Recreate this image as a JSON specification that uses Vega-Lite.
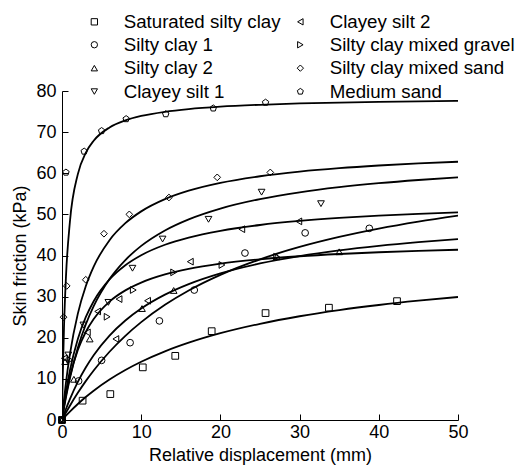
{
  "$schema": "https://vega.github.io/schema/vega-lite/v6.json",
  "width": 396,
  "height": 329,
  "autosize": "none",
  "padding": {"left": 62, "top": 91, "right": 67, "bottom": 46},
  "background": "white",
  "config": {
    "font": "Liberation Sans",
    "view": {"stroke": null},
    "axis": {"grid": false, "domainColor": "black", "tickColor": "black", "labelColor": "black", "titleColor": "black", "labelFont": "Liberation Sans", "titleFont": "Liberation Sans", "titleFontWeight": "normal", "labelFontSize": 18, "titleFontSize": 18}
  },
  "datasets": {
    "pts": [
      {"s": "Saturated silty clay", "x": 0, "y": 0}, {"s": "Saturated silty clay", "x": 2.6, "y": 4.7}, {"s": "Saturated silty clay", "x": 6.1, "y": 6.3}, {"s": "Saturated silty clay", "x": 10.2, "y": 12.8}, {"s": "Saturated silty clay", "x": 14.3, "y": 15.6}, {"s": "Saturated silty clay", "x": 18.9, "y": 21.6}, {"s": "Saturated silty clay", "x": 25.7, "y": 26.0}, {"s": "Saturated silty clay", "x": 33.7, "y": 27.3}, {"s": "Saturated silty clay", "x": 42.3, "y": 28.9},
      {"s": "Silty clay 1", "x": 0, "y": 0}, {"s": "Silty clay 1", "x": 2.1, "y": 9.5}, {"s": "Silty clay 1", "x": 5.0, "y": 14.5}, {"s": "Silty clay 1", "x": 8.6, "y": 18.8}, {"s": "Silty clay 1", "x": 12.3, "y": 24.1}, {"s": "Silty clay 1", "x": 16.7, "y": 31.6}, {"s": "Silty clay 1", "x": 23.1, "y": 40.6}, {"s": "Silty clay 1", "x": 30.7, "y": 45.5}, {"s": "Silty clay 1", "x": 38.8, "y": 46.6},
      {"s": "Silty clay 2", "x": 0, "y": 0}, {"s": "Silty clay 2", "x": 0.4, "y": 14.2}, {"s": "Silty clay 2", "x": 1.5, "y": 9.9}, {"s": "Silty clay 2", "x": 3.5, "y": 19.7}, {"s": "Silty clay 2", "x": 10.1, "y": 27.1}, {"s": "Silty clay 2", "x": 14.1, "y": 31.5}, {"s": "Silty clay 2", "x": 27.1, "y": 39.7}, {"s": "Silty clay 2", "x": 35.0, "y": 40.9},
      {"s": "Clayey silt 1", "x": 0, "y": 0}, {"s": "Clayey silt 1", "x": 0.8, "y": 15.8}, {"s": "Clayey silt 1", "x": 2.7, "y": 23.1}, {"s": "Clayey silt 1", "x": 5.85, "y": 28.6}, {"s": "Clayey silt 1", "x": 8.9, "y": 36.9}, {"s": "Clayey silt 1", "x": 12.7, "y": 44.0}, {"s": "Clayey silt 1", "x": 18.5, "y": 48.8}, {"s": "Clayey silt 1", "x": 25.2, "y": 55.4}, {"s": "Clayey silt 1", "x": 32.7, "y": 52.6},
      {"s": "Clayey silt 2", "x": 0, "y": 0}, {"s": "Clayey silt 2", "x": 0.3, "y": 15.0}, {"s": "Clayey silt 2", "x": 3.2, "y": 21.3}, {"s": "Clayey silt 2", "x": 4.5, "y": 26.4}, {"s": "Clayey silt 2", "x": 6.8, "y": 19.7}, {"s": "Clayey silt 2", "x": 7.2, "y": 29.4}, {"s": "Clayey silt 2", "x": 10.8, "y": 29.0}, {"s": "Clayey silt 2", "x": 16.2, "y": 38.5}, {"s": "Clayey silt 2", "x": 22.7, "y": 46.4}, {"s": "Clayey silt 2", "x": 29.9, "y": 48.3},
      {"s": "Silty clay mixed gravel", "x": 0, "y": 0}, {"s": "Silty clay mixed gravel", "x": 1.0, "y": 14.6}, {"s": "Silty clay mixed gravel", "x": 5.7, "y": 25.1}, {"s": "Silty clay mixed gravel", "x": 9.0, "y": 31.6}, {"s": "Silty clay mixed gravel", "x": 14.1, "y": 35.9}, {"s": "Silty clay mixed gravel", "x": 20.2, "y": 37.7}, {"s": "Silty clay mixed gravel", "x": 27.1, "y": 39.7},
      {"s": "Silty clay mixed sand", "x": 0, "y": 0}, {"s": "Silty clay mixed sand", "x": 0.2, "y": 25.0}, {"s": "Silty clay mixed sand", "x": 0.6, "y": 32.6}, {"s": "Silty clay mixed sand", "x": 3.0, "y": 34.1}, {"s": "Silty clay mixed sand", "x": 5.3, "y": 45.3}, {"s": "Silty clay mixed sand", "x": 8.5, "y": 50.0}, {"s": "Silty clay mixed sand", "x": 13.5, "y": 54.1}, {"s": "Silty clay mixed sand", "x": 19.6, "y": 59.0}, {"s": "Silty clay mixed sand", "x": 26.3, "y": 60.2},
      {"s": "Medium sand", "x": 0, "y": 0}, {"s": "Medium sand", "x": 0.5, "y": 60.2}, {"s": "Medium sand", "x": 2.8, "y": 65.3}, {"s": "Medium sand", "x": 5.0, "y": 70.3}, {"s": "Medium sand", "x": 8.1, "y": 73.2}, {"s": "Medium sand", "x": 13.1, "y": 74.4}, {"s": "Medium sand", "x": 19.1, "y": 75.8}, {"s": "Medium sand", "x": 25.7, "y": 77.2}
    ],
    "fit": [
      {"s": "Medium sand", "x": 0, "y": 0}, {"s": "Medium sand", "x": 0.1, "y": 10.78}, {"s": "Medium sand", "x": 0.25, "y": 22.36}, {"s": "Medium sand", "x": 0.5, "y": 34.81}, {"s": "Medium sand", "x": 1, "y": 48.25}, {"s": "Medium sand", "x": 2, "y": 59.79}, {"s": "Medium sand", "x": 3, "y": 64.97}, {"s": "Medium sand", "x": 4, "y": 67.91}, {"s": "Medium sand", "x": 6, "y": 71.13}, {"s": "Medium sand", "x": 8, "y": 72.85}, {"s": "Medium sand", "x": 10, "y": 73.93}, {"s": "Medium sand", "x": 13, "y": 74.95}, {"s": "Medium sand", "x": 16, "y": 75.61}, {"s": "Medium sand", "x": 20, "y": 76.19}, {"s": "Medium sand", "x": 25, "y": 76.65}, {"s": "Medium sand", "x": 30, "y": 76.97}, {"s": "Medium sand", "x": 35, "y": 77.19}, {"s": "Medium sand", "x": 40, "y": 77.36}, {"s": "Medium sand", "x": 45, "y": 77.50}, {"s": "Medium sand", "x": 50, "y": 77.60},
      {"s": "Silty clay mixed sand", "x": 0, "y": 0}, {"s": "Silty clay mixed sand", "x": 0.25, "y": 4.89}, {"s": "Silty clay mixed sand", "x": 0.5, "y": 9.12}, {"s": "Silty clay mixed sand", "x": 1, "y": 16.04}, {"s": "Silty clay mixed sand", "x": 2, "y": 25.87}, {"s": "Silty clay mixed sand", "x": 3, "y": 32.51}, {"s": "Silty clay mixed sand", "x": 4, "y": 37.29}, {"s": "Silty clay mixed sand", "x": 6, "y": 43.73}, {"s": "Silty clay mixed sand", "x": 8, "y": 47.86}, {"s": "Silty clay mixed sand", "x": 10, "y": 50.73}, {"s": "Silty clay mixed sand", "x": 13, "y": 53.71}, {"s": "Silty clay mixed sand", "x": 16, "y": 55.75}, {"s": "Silty clay mixed sand", "x": 20, "y": 57.66}, {"s": "Silty clay mixed sand", "x": 25, "y": 59.27}, {"s": "Silty clay mixed sand", "x": 30, "y": 60.40}, {"s": "Silty clay mixed sand", "x": 35, "y": 61.24}, {"s": "Silty clay mixed sand", "x": 40, "y": 61.88}, {"s": "Silty clay mixed sand", "x": 45, "y": 62.39}, {"s": "Silty clay mixed sand", "x": 50, "y": 62.80},
      {"s": "Clayey silt 1", "x": 0, "y": 0}, {"s": "Clayey silt 1", "x": 0.25, "y": 2.87}, {"s": "Clayey silt 1", "x": 0.5, "y": 5.49}, {"s": "Clayey silt 1", "x": 1, "y": 10.13}, {"s": "Clayey silt 1", "x": 2, "y": 17.55}, {"s": "Clayey silt 1", "x": 3, "y": 23.21}, {"s": "Clayey silt 1", "x": 4, "y": 27.67}, {"s": "Clayey silt 1", "x": 6, "y": 34.27}, {"s": "Clayey silt 1", "x": 8, "y": 38.90}, {"s": "Clayey silt 1", "x": 10, "y": 42.33}, {"s": "Clayey silt 1", "x": 13, "y": 46.09}, {"s": "Clayey silt 1", "x": 16, "y": 48.79}, {"s": "Clayey silt 1", "x": 20, "y": 51.41}, {"s": "Clayey silt 1", "x": 25, "y": 53.71}, {"s": "Clayey silt 1", "x": 30, "y": 55.37}, {"s": "Clayey silt 1", "x": 35, "y": 56.61}, {"s": "Clayey silt 1", "x": 40, "y": 57.58}, {"s": "Clayey silt 1", "x": 45, "y": 58.36}, {"s": "Clayey silt 1", "x": 50, "y": 59.00},
      {"s": "Clayey silt 2", "x": 0, "y": 0}, {"s": "Clayey silt 2", "x": 0.25, "y": 3.62}, {"s": "Clayey silt 2", "x": 0.5, "y": 6.79}, {"s": "Clayey silt 2", "x": 1, "y": 12.06}, {"s": "Clayey silt 2", "x": 2, "y": 19.72}, {"s": "Clayey silt 2", "x": 3, "y": 25.01}, {"s": "Clayey silt 2", "x": 4, "y": 28.89}, {"s": "Clayey silt 2", "x": 6, "y": 34.19}, {"s": "Clayey silt 2", "x": 8, "y": 37.64}, {"s": "Clayey silt 2", "x": 10, "y": 40.07}, {"s": "Clayey silt 2", "x": 13, "y": 42.61}, {"s": "Clayey silt 2", "x": 16, "y": 44.37}, {"s": "Clayey silt 2", "x": 20, "y": 46.01}, {"s": "Clayey silt 2", "x": 25, "y": 47.42}, {"s": "Clayey silt 2", "x": 30, "y": 48.40}, {"s": "Clayey silt 2", "x": 35, "y": 49.13}, {"s": "Clayey silt 2", "x": 40, "y": 49.69}, {"s": "Clayey silt 2", "x": 45, "y": 50.14}, {"s": "Clayey silt 2", "x": 50, "y": 50.50},
      {"s": "Silty clay 1", "x": 0, "y": 0}, {"s": "Silty clay 1", "x": 0.25, "y": 0.90}, {"s": "Silty clay 1", "x": 0.5, "y": 1.78}, {"s": "Silty clay 1", "x": 1, "y": 3.47}, {"s": "Silty clay 1", "x": 2, "y": 6.60}, {"s": "Silty clay 1", "x": 3, "y": 9.45}, {"s": "Silty clay 1", "x": 4, "y": 12.04}, {"s": "Silty clay 1", "x": 6, "y": 16.60}, {"s": "Silty clay 1", "x": 8, "y": 20.47}, {"s": "Silty clay 1", "x": 10, "y": 23.80}, {"s": "Silty clay 1", "x": 13, "y": 28.01}, {"s": "Silty clay 1", "x": 16, "y": 31.50}, {"s": "Silty clay 1", "x": 20, "y": 35.30}, {"s": "Silty clay 1", "x": 25, "y": 39.07}, {"s": "Silty clay 1", "x": 30, "y": 42.07}, {"s": "Silty clay 1", "x": 35, "y": 44.51}, {"s": "Silty clay 1", "x": 40, "y": 46.54}, {"s": "Silty clay 1", "x": 45, "y": 48.24}, {"s": "Silty clay 1", "x": 50, "y": 49.70},
      {"s": "Silty clay 2", "x": 0, "y": 0}, {"s": "Silty clay 2", "x": 0.25, "y": 1.37}, {"s": "Silty clay 2", "x": 0.5, "y": 2.68}, {"s": "Silty clay 2", "x": 1, "y": 5.09}, {"s": "Silty clay 2", "x": 2, "y": 9.28}, {"s": "Silty clay 2", "x": 3, "y": 12.78}, {"s": "Silty clay 2", "x": 4, "y": 15.76}, {"s": "Silty clay 2", "x": 6, "y": 20.53}, {"s": "Silty clay 2", "x": 8, "y": 24.20}, {"s": "Silty clay 2", "x": 10, "y": 27.10}, {"s": "Silty clay 2", "x": 13, "y": 30.48}, {"s": "Silty clay 2", "x": 16, "y": 33.05}, {"s": "Silty clay 2", "x": 20, "y": 35.66}, {"s": "Silty clay 2", "x": 25, "y": 38.07}, {"s": "Silty clay 2", "x": 30, "y": 39.86}, {"s": "Silty clay 2", "x": 35, "y": 41.25}, {"s": "Silty clay 2", "x": 40, "y": 42.35}, {"s": "Silty clay 2", "x": 45, "y": 43.25}, {"s": "Silty clay 2", "x": 50, "y": 44.00},
      {"s": "Silty clay mixed gravel", "x": 0, "y": 0}, {"s": "Silty clay mixed gravel", "x": 0.25, "y": 3.22}, {"s": "Silty clay mixed gravel", "x": 0.5, "y": 5.99}, {"s": "Silty clay mixed gravel", "x": 1, "y": 10.55}, {"s": "Silty clay mixed gravel", "x": 2, "y": 17.02}, {"s": "Silty clay mixed gravel", "x": 3, "y": 21.40}, {"s": "Silty clay mixed gravel", "x": 4, "y": 24.55}, {"s": "Silty clay mixed gravel", "x": 6, "y": 28.80}, {"s": "Silty clay mixed gravel", "x": 8, "y": 31.52}, {"s": "Silty clay mixed gravel", "x": 10, "y": 33.42}, {"s": "Silty clay mixed gravel", "x": 13, "y": 35.39}, {"s": "Silty clay mixed gravel", "x": 16, "y": 36.74}, {"s": "Silty clay mixed gravel", "x": 20, "y": 38.00}, {"s": "Silty clay mixed gravel", "x": 25, "y": 39.07}, {"s": "Silty clay mixed gravel", "x": 30, "y": 39.82}, {"s": "Silty clay mixed gravel", "x": 35, "y": 40.37}, {"s": "Silty clay mixed gravel", "x": 40, "y": 40.79}, {"s": "Silty clay mixed gravel", "x": 45, "y": 41.13}, {"s": "Silty clay mixed gravel", "x": 50, "y": 41.40},
      {"s": "Saturated silty clay", "x": 0, "y": 0}, {"s": "Saturated silty clay", "x": 0.25, "y": 0.53}, {"s": "Saturated silty clay", "x": 0.5, "y": 1.05}, {"s": "Saturated silty clay", "x": 1, "y": 2.04}, {"s": "Saturated silty clay", "x": 2, "y": 3.89}, {"s": "Saturated silty clay", "x": 3, "y": 5.58}, {"s": "Saturated silty clay", "x": 4, "y": 7.12}, {"s": "Saturated silty clay", "x": 6, "y": 9.83}, {"s": "Saturated silty clay", "x": 8, "y": 12.15}, {"s": "Saturated silty clay", "x": 10, "y": 14.15}, {"s": "Saturated silty clay", "x": 13, "y": 16.69}, {"s": "Saturated silty clay", "x": 16, "y": 18.79}, {"s": "Saturated silty clay", "x": 20, "y": 21.10}, {"s": "Saturated silty clay", "x": 25, "y": 23.39}, {"s": "Saturated silty clay", "x": 30, "y": 25.23}, {"s": "Saturated silty clay", "x": 35, "y": 26.72}, {"s": "Saturated silty clay", "x": 40, "y": 27.96}, {"s": "Saturated silty clay", "x": 45, "y": 29.01}, {"s": "Saturated silty clay", "x": 50, "y": 29.91}
    ]
  },
  "layer": [
    {
      "data": {"name": "fit"},
      "mark": {"type": "line", "color": "black", "strokeWidth": 1.8, "interpolate": "monotone", "clip": true},
      "encoding": {
        "x": {"field": "x", "type": "quantitative", "scale": {"domain": [0, 50], "nice": false},
          "axis": {"title": "Relative displacement (mm)", "values": [0, 2.5, 5, 7.5, 10, 12.5, 15, 17.5, 20, 22.5, 25, 27.5, 30, 32.5, 35, 37.5, 40, 42.5, 45, 47.5, 50],
            "labelExpr": "datum.value % 5 === 0 ? datum.label : ''",
            "tickSize": {"condition": {"test": "datum.value % 5 === 0", "value": -6}, "value": -3},
            "labelPadding": 9, "titlePadding": 5, "labelOverlap": false, "labelFlush": false, "domainWidth": 1, "tickWidth": 1}},
        "y": {"field": "y", "type": "quantitative", "scale": {"domain": [0, 80], "nice": false},
          "axis": {"title": "Skin friction (kPa)", "values": [0, 5, 10, 15, 20, 25, 30, 35, 40, 45, 50, 55, 60, 65, 70, 75, 80],
            "labelExpr": "datum.value % 10 === 0 ? datum.label : ''",
            "tickSize": {"condition": {"test": "datum.value % 10 === 0", "value": -6}, "value": -3},
            "labelPadding": 12, "titlePadding": 6, "labelOverlap": false, "labelFlush": false, "domainWidth": 1, "tickWidth": 1}},
        "detail": {"field": "s", "type": "nominal"}
      }
    },
    {
      "data": {"name": "pts"},
      "mark": {"type": "point", "filled": false, "color": "black", "strokeWidth": 1, "size": 45, "opacity": 1},
      "encoding": {
        "x": {"field": "x", "type": "quantitative"},
        "y": {"field": "y", "type": "quantitative"},
        "shape": {"field": "s", "type": "nominal",
          "scale": {"domain": ["Saturated silty clay", "Silty clay 1", "Silty clay 2", "Clayey silt 1", "Clayey silt 2", "Silty clay mixed gravel", "Silty clay mixed sand", "Medium sand"],
            "range": ["square", "circle", "triangle-up", "triangle-down", "triangle-left", "triangle-right", "diamond", "M0,-1L0.951,-0.309L0.588,0.809L-0.588,0.809L-0.951,-0.309Z"]},
          "legend": {"title": null, "orient": "none", "legendX": 23, "legendY": -79, "columns": 2, "symbolSize": 40, "symbolStrokeWidth": 1, "symbolStrokeColor": "black", "symbolFillColor": "transparent", "labelFontSize": 18.7, "labelFont": "Liberation Sans", "labelColor": "black", "labelOffset": 20, "columnPadding": 10, "rowPadding": 3.4, "labelLimit": 300}
        }
      }
    }
  ]
}
